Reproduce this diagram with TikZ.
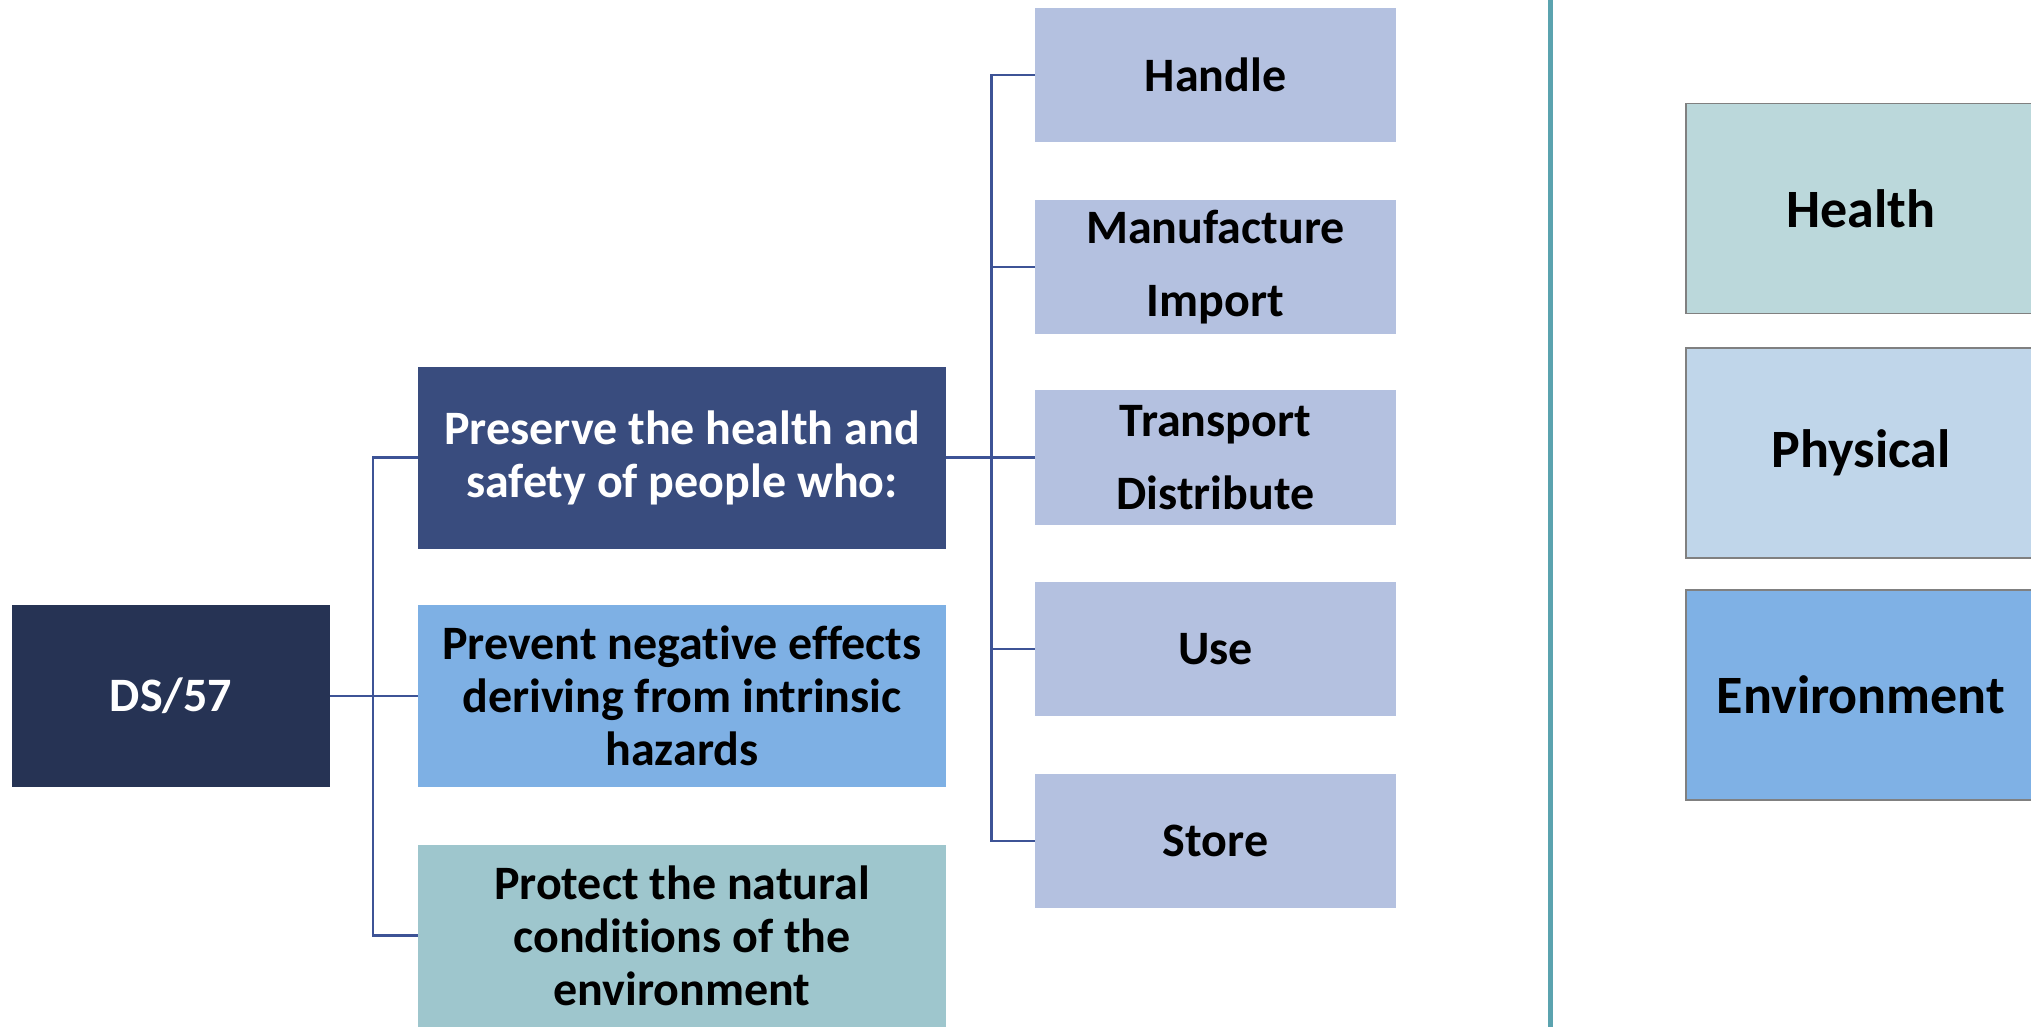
\documentclass[tikz,border=0pt]{standalone}
\usepackage{fontspec}
\setmainfont{Carlito}[Ligatures={NoCommon}]
\definecolor{dsblue}{RGB}{38,51,84}
\definecolor{presblue}{RGB}{57,76,126}
\definecolor{prevblue}{RGB}{126,176,228}
\definecolor{protteal}{RGB}{158,198,205}
\definecolor{actblue}{RGB}{180,193,224}
\definecolor{healthc}{RGB}{187,216,219}
\definecolor{physc}{RGB}{192,214,234}
\definecolor{envc}{RGB}{127,177,229}
\definecolor{sepline}{RGB}{91,163,175}
\definecolor{connc}{RGB}{61,83,150}
\tikzset{
  box/.style={rectangle, inner sep=0pt, align=center, font=\bfseries\fontsize{48}{53}\selectfont},
  leftbox/.style={box, minimum width=528, minimum height=182},
  actbox/.style={box, fill=actblue, minimum width=361, minimum height=134.5, font=\bfseries\fontsize{48}{72.5}\selectfont},
  catbox/.style={box, draw=gray, line width=1.5pt, minimum width=350, minimum height=210, font=\bfseries\fontsize{54}{60}\selectfont},
  conn/.style={draw=connc, line width=2.5pt},
}
\begin{document}
\begin{tikzpicture}[x=1pt,y=-1pt]
\useasboundingbox (0,0) rectangle (2031,1026);
\clip (0,0) rectangle (2031,1026);
\fill[white] (0,0) rectangle (2031,1026);
% left part
\node[box, fill=dsblue, text=white, minimum width=318, minimum height=182] (ds) at (171,696) {DS/57};
\node[leftbox, fill=presblue, text=white] (pres) at (682,457.5) {Preserve the health and\\safety of people who:};
\node[leftbox, fill=prevblue] (prev) at (682,696) {Prevent negative effects\\deriving from intrinsic\\hazards};
\node[leftbox, fill=protteal] (prot) at (682,935.5) {Protect the natural\\conditions of the\\environment};
% activities
\node[actbox] (handle) at (1215.5,75) {Handle};
\node[actbox] (manu) at (1215.5,267) {Manufacture\\Import};
\node[actbox] (trans) at (1215.5,457.5) {Transport\\Distribute};
\node[actbox] (use) at (1215.5,649) {Use};
\node[actbox] (store) at (1215.5,841) {Store};
% connectors left
\draw[conn] (ds.east) -- ++(43,0) coordinate (lt) |- (pres.west);
\draw[conn] (ds.east) -- (prev.west);
\draw[conn] (lt) |- (prot.west);
% connectors right
\draw[conn] (pres.east) -- ++(45.4,0) coordinate (rt) |- (handle.west);
\draw[conn] (rt) |- (manu.west);
\draw[conn] (pres.east) -- (trans.west);
\draw[conn] (rt) |- (use.west);
\draw[conn] (rt) |- (store.west);
% separator
\coordinate (septop) at (1550.5,-5);
\coordinate (sepbot) at (1550.5,1031);
\draw[sepline, line width=5pt] (septop) -- (sepbot);
% categories
\node[catbox, fill=healthc] (health) at (1861,208.5) {Health};
\node[catbox, fill=physc] (phys) at (1861,453) {Physical};
\node[catbox, fill=envc] (env) at (1861,695) {Environment};
\end{tikzpicture}
\end{document}
